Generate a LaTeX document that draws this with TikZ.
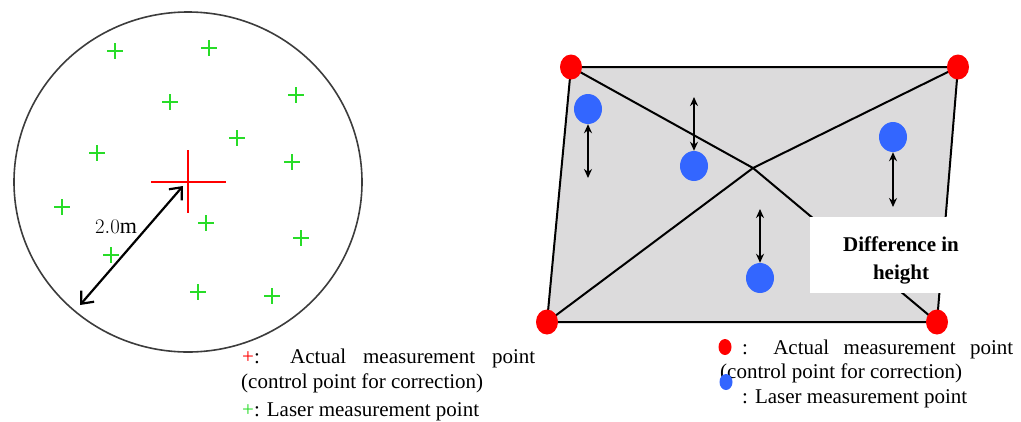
\documentclass[tikz,border=0pt]{standalone}
\usepackage{fontspec}
\setmainfont{Liberation Serif}
\usetikzlibrary{arrows.meta,shapes.geometric}
\definecolor{ctlred}{RGB}{255,0,0}
\definecolor{laserblue}{RGB}{51,102,255}
\definecolor{lasergreen}{RGB}{40,220,40}
\definecolor{planegray}{RGB}{220,219,220}
\definecolor{rimgray}{RGB}{60,60,60}

\begin{document}
\begin{tikzpicture}[x=1pt, y=-1pt, >=Stealth,
  txt/.style={inner sep=0pt, font=\fontsize{21}{28}\selectfont},
  ctldot/.style={ellipse, fill=ctlred, inner sep=0pt, minimum width=22, minimum height=25},
  laserdot/.style={ellipse, fill=laserblue, inner sep=0pt, minimum width=28, minimum height=30},
  hgt/.style={{Stealth[length=9pt,width=8pt]}-{Stealth[length=9pt,width=8pt]}, line width=1.5pt},
  laser/.style={lasergreen, line width=1.2pt}]
  \useasboundingbox (0,0) rectangle (1021,421);

  % left: laser points round one control point
  \draw[rimgray, line width=1.6pt] (188,182) ellipse [x radius=174, y radius=170];
  \foreach \x/\y in {115/51, 209/48, 296/95, 170/102, 237/138, 97/153, 292/162,
                     62/207, 206/223, 301/238, 111/255, 198/292, 272/296}
    \draw[laser] (\x-8,\y) -- (\x+8,\y) (\x,\y-8) -- (\x,\y+8);
  \coordinate (ctr) at (188,182);
  \draw[ctlred, line width=1.4pt] (ctr) ++(-37,0) -- ++(75,0) (ctr) ++(0,-32) -- ++(0,63);
  \coordinate (tip) at (183,186);
  \coordinate (rim) at (80,305);
  \draw[{Straight Barb[length=10pt,width=17pt]}-{Straight Barb[length=10pt,width=17pt]}, line width=2.2pt] (tip) -- (rim);
  \node[inner sep=0pt, font=\fontsize{22}{26}\selectfont] (rlabel) at (116,227) {$2.0\mathrm{m}$};

  \node[txt, anchor=base west] (actL) at (242,363)
    {\makebox[293pt][s]{\textcolor{ctlred}{+}: Actual measurement point}};
  \node[txt, anchor=base west] (ctlL) at (241,388) {(control point for correction)};
  \node[txt, anchor=base west] (lasL) at (242,416) {\textcolor{lasergreen}{+}: Laser measurement point};

  % right: surface through four control points
  \coordinate (tl) at (571,67);
  \coordinate (tr) at (958,67);
  \coordinate (bl) at (547,322);
  \coordinate (br) at (937,322);
  \coordinate (peak) at (753,168);
  \fill[planegray] (tl) -- (tr) -- (br) -- (bl) -- cycle;
  \draw[line width=2pt] (tl) -- (tr) -- (br) -- (bl) -- cycle;
  \draw[line width=2pt] (tl) -- (peak) -- (br);
  \draw[line width=2pt] (bl) -- (peak) -- (tr);

  \node[fill=white, inner sep=0pt, minimum width=137, minimum height=76, anchor=north west] (hbox) at (810,217) {};
  \node[txt, align=center, font=\fontsize{21}{28}\selectfont\bfseries, anchor=base] (hlabel) at (901,279) {Difference in\\height};

  \node[laserdot] (b1) at (588,109) {};
  \node[laserdot] (b2) at (694,166) {};
  \node[laserdot] (b3) at (893,137) {};
  \node[laserdot] (b4) at (760,278) {};
  \coordinate (h1) at (588,178);
  \coordinate (h2) at (694,97);
  \coordinate (h3) at (893,207);
  \coordinate (h4) at (760,209);
  \draw[hgt] (b1) -- (h1);
  \draw[hgt] (b2) -- (h2);
  \draw[hgt] (b3) -- (h3);
  \draw[hgt] (b4) -- (h4);

  \node[ctldot] (c1) at (tl) {};
  \node[ctldot] (c2) at (tr) {};
  \node[ctldot] (c3) at (bl) {};
  \node[ctldot] (c4) at (br) {};

  \node[txt, anchor=base west] (actR) at (742,354)
    {\makebox[271pt][s]{: Actual measurement point}};
  \node[txt, anchor=base west] (ctlR) at (720,378) {(control point for correction)};
  \node[txt, anchor=base west] (lasR) at (742,403) {: Laser measurement point};
  \node[ctldot, minimum width=13, minimum height=16] (keyred) at (725,347) {};
  \node[laserdot, minimum width=13, minimum height=16] (keyblue) at (726,382) {};
\end{tikzpicture}
\end{document}
